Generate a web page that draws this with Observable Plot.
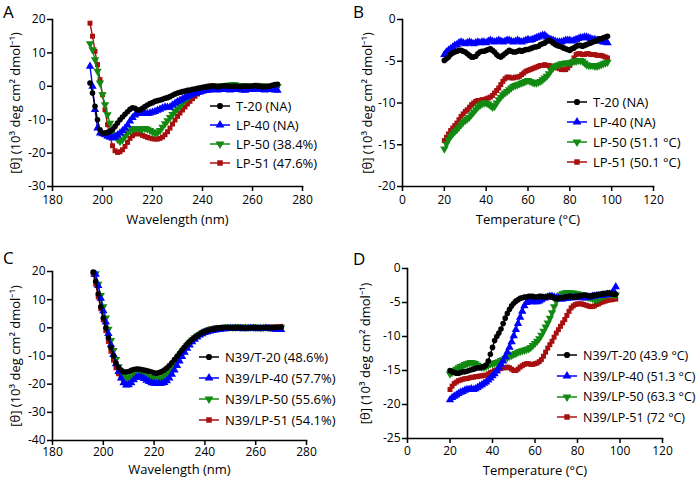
<!DOCTYPE html>
<html><head><meta charset="utf-8">
<script src="https://cdn.jsdelivr.net/npm/d3@7"></script>
<script src="https://cdn.jsdelivr.net/npm/@observablehq/plot@0.6"></script>
<style>
body{margin:0;background:#fff;font-family:"Open Sans",sans-serif;color:#000;}
#wrap{position:relative;width:700px;height:480px;overflow:hidden;}
.panel{position:absolute;width:350px;height:240px;}
.panel svg{display:block;}
.letter{position:absolute;font-size:17px;line-height:20px;}
.legend{position:absolute;font-size:13px;}
.legend .row{display:flex;align-items:center;white-space:nowrap;}
.legend .row span{margin-left:5px;}
</style></head>
<body><div id="wrap"></div>
<script>
// ---------- shared ----------
const seriesColors = ["#000000", "#0000ff", "#128a12", "#a81010"];
const seriesSymbols = ["circle", "triangle", "triangleDown", "square"];
const yLabel = "[θ] (10³ deg cm² dmol⁻¹)";
const wlLabel = "Wavelength (nm)";
const tLabel = "Temperature (°C)";

// ---------- Panel A: CD spectra (1 nm steps from 195 nm) ----------
const aNames = ["T-20 (NA)", "LP-40 (NA)", "LP-50 (38.4%)", "LP-51 (47.6%)"];
const aStart = 195;
const aT20 = [1,-2,-6,-10,-13,-14,-14,-13.8,-13.5,-13,
  -12,-11,-10,-9.2,-8.4,-7.6,-6.9,-6.4,-6.6,-7.1,
  -7,-6.6,-6.1,-5.6,-5.2,-4.9,-4.5,-4.3,-4.1,-3.9,
  -3.6,-3.4,-3.1,-2.7,-2.3,-2,-1.8,-1.6,-1.4,-1.2,
  -1.1,-0.9,-0.8,-0.6,-0.5,-0.3,-0.2,-0.1,
  0,0.1,0,-0.1,0,0.1,0.2,0.1,0,0,0.1,0,-0.1,0,0.1,0,0,0.1,0.2,0.1,0,-0.2,-0.1,0,0.1,0.3,0.5,0.6];
const aLP40 = [6,0,-7,-12.5,-14,-14.2,-14.5,-15,-15.3,-15.5,
  -15.2,-14.6,-14,-13.3,-12.6,-11.6,-10.4,-9.4,-8.6,-8.2,
  -8,-8,-8.1,-8.2,-8,-7.8,-7.6,-7.2,-6.9,-6.5,
  -6.2,-6.3,-6.2,-5.6,-5.1,-4.6,-4.2,-3.8,-3.4,-3.0,
  -2.7,-2.4,-2.1,-1.9,-1.7,-1.5,-1.3,-1.2,
  -1.1,-1,-1,-1.1,-1,-0.9,-1,-1,-1.1,-1,-0.9,-1,-1,-1.1,-1.2,-1,-0.9,-1,-0.8,-0.7,-0.9,-1,-1.1,-1,-0.9,-1,-1.1,-1.2];
const aLP50 = [12.8,11,8,4.5,1,-2.5,-5.5,-8.5,-11,-13,
  -14.5,-15.8,-16.5,-16,-15,-14,-13.3,-12.8,-12.6,-12.7,
  -12.8,-12.7,-12.6,-12.8,-13.2,-13.6,-14,-13.9,-13.2,-12.2,
  -11.2,-10.3,-9.3,-8.4,-7.5,-6.7,-5.8,-5,-4.2,-3.5,
  -2.8,-2.2,-1.6,-1.2,-0.8,-0.5,-0.3,-0.1,
  0,0,0.1,0,0,0.1,0.2,0.3,0.4,0.6,0.5,0.3,0.2,0.1,0,0,0.1,0,0,0.1,0.2,0.1,0,0,-0.1,0,0,0];
const aLP51 = [18.9,15,10.5,6.5,2,-2.5,-7,-11.5,-15,-17.8,
  -19.3,-19.8,-19.6,-19,-18,-16.8,-15.6,-14.8,-14.3,-14.1,
  -14.3,-14.7,-15,-15.3,-15.5,-15.7,-15.8,-15.8,-15.6,-15.2,
  -14.5,-13.6,-12.5,-11.3,-10.1,-9,-8,-7.1,-6.2,-5.3,
  -4.5,-3.7,-3,-2.3,-1.6,-1,-0.4,0,
  0.1,0.2,0.1,0,0,-0.1,0,0,0.1,0,0,-0.1,-0.2,-0.1,0,0.1,0,0,0.2,0.3,0.2,0.1,0,0,0,0.1,0.2,0.3];
const aXTicks = [180,200,220,240,260,280];
const aYTicks = [-30,-20,-10,0,10,20];

// ---------- Panel B: thermal melts (1 °C steps from 20 °C) ----------
const bNames = ["T-20 (NA)", "LP-40 (NA)", "LP-50 (51.1 °C)", "LP-51 (50.1 °C)"];
const bStart = 20;
const bT20 = [-4.9,-4.7,-4.5,-4.2,-4.0,-3.9,-3.8,-3.7,-3.7,-3.8,
  -3.9,-4.1,-4.3,-4.5,-4.5,-4.4,-4.1,-3.9,-3.8,-3.8,
  -3.7,-3.6,-3.5,-3.7,-3.9,-4.2,-4.4,-4.5,-4.3,-4.1,
  -3.9,-3.7,-3.8,-3.9,-3.9,-3.8,-3.7,-3.8,-3.7,-3.6,
  -3.6,-3.5,-3.4,-3.3,-3.3,-3.2,-3.0,-2.9,-2.8,-2.6,
  -2.5,-2.6,-2.8,-3.0,-3.1,-3.2,-3.3,-3.4,-3.5,-3.6,
  -3.7,-3.5,-3.4,-3.2,-3.1,-3.1,-3.2,-3.1,-3.0,-2.9,
  -2.8,-2.7,-2.6,-2.5,-2.3,-2.3,-2.2,-2.1,-2.0];
const bLP40 = [-4.2,-3.9,-3.7,-3.5,-3.3,-3.1,-3.0,-2.8,-2.7,-2.8,
  -2.9,-2.8,-2.7,-2.8,-2.9,-2.8,-2.7,-2.8,-2.7,-2.7,
  -2.8,-2.6,-2.5,-2.6,-2.7,-2.6,-2.5,-2.6,-2.7,-2.6,
  -2.5,-2.5,-2.6,-2.7,-2.6,-2.5,-2.6,-2.7,-2.6,-2.5,
  -2.4,-2.5,-2.4,-2.3,-2.2,-2.1,-2.0,-1.9,-1.9,-2.1,
  -2.3,-2.4,-2.5,-2.6,-2.7,-2.7,-2.7,-2.6,-2.5,-2.5,
  -2.5,-2.6,-2.5,-2.4,-2.3,-2.2,-2.2,-2.1,-2.1,-2.2,
  -2.3,-2.4,-2.4,-2.5,-2.6,-2.6,-2.7,-2.7,-2.8];
const bLP50 = [-15.5,-14.9,-14.4,-14.0,-13.7,-13.4,-13.2,-12.9,-12.6,-12.3,
  -12.1,-11.9,-11.7,-11.4,-11.1,-10.8,-10.5,-10.3,-10.1,-10.0,
  -10.0,-10.1,-10.3,-10.5,-10.4,-10.0,-9.6,-9.3,-9.0,-8.8,
  -8.6,-8.4,-8.2,-8.0,-7.9,-7.8,-7.7,-7.6,-7.5,-7.4,
  -7.3,-7.4,-7.5,-7.6,-7.6,-7.5,-7.4,-7.2,-7.0,-6.8,
  -6.5,-6.1,-5.8,-5.6,-5.5,-5.4,-5.3,-5.3,-5.2,-5.2,
  -5.2,-5.1,-5.0,-5.0,-4.9,-4.9,-5.0,-5.2,-5.4,-5.5,
  -5.5,-5.5,-5.6,-5.6,-5.5,-5.4,-5.3,-5.2,-5.1];
const bLP51 = [-14.5,-14.1,-13.7,-13.3,-13.0,-12.7,-12.4,-12.0,-11.6,-11.3,
  -11.0,-10.8,-10.5,-10.2,-10.0,-9.8,-9.7,-9.7,-9.6,-9.6,
  -9.5,-9.4,-9.3,-9.1,-8.8,-8.5,-8.2,-7.8,-7.4,-7.1,
  -6.9,-6.9,-7.0,-7.0,-6.9,-6.9,-6.8,-6.6,-6.4,-6.2,
  -6.1,-6.0,-5.9,-5.8,-5.7,-5.6,-5.5,-5.5,-5.4,-5.5,
  -5.5,-5.6,-5.6,-5.7,-5.8,-5.9,-6.0,-6.0,-6.0,-5.8,
  -5.5,-5.1,-4.6,-4.2,-4.1,-4.1,-4.2,-4.2,-4.1,-4.1,
  -4.2,-4.2,-4.2,-4.3,-4.3,-4.3,-4.4,-4.5,-4.6];
const bXTicks = [0,20,40,60,80,100,120];
const bYTicks = [-20,-15,-10,-5,0];

// ---------- Panel C: CD spectra of complexes ----------
const cNames = ["N39/T-20 (48.6%)", "N39/LP-40 (57.7%)", "N39/LP-50 (55.6%)", "N39/LP-51 (54.1%)"];
const cStarts = [196, 197, 197, 196];
const cT20 = [19.8,16.5,12,7.5,3.5,0,-3.5,-7,-10,-12.5,
  -14,-15,-15.6,-15.7,-15.5,-15.1,-14.8,-14.6,-14.6,-14.8,
  -15,-15.2,-15.4,-15.7,-16,-16.1,-15.9,-15.5,-15,-14.3,
  -13.4,-12.4,-11.3,-10.2,-9,-7.9,-6.8,-5.8,-4.9,-4.1,
  -3.4,-2.8,-2.2,-1.7,-1.3,-1,-0.7,-0.5,-0.3,-0.1,
  0,0,0.1,0.1,0,0,0,0.1,0,0,-0.1,0,0,0.1,0,0,0,0.1,0.1,0,0,0.1,0.2,0.1,0.2];
const cLP40 = [19,15,10.5,6,2,-2,-6,-9.5,-12.8,
  -15.5,-17.8,-19.5,-20.3,-20.2,-19.5,-18.5,-17.7,-17.3,-17.5,
  -18,-18.6,-19.1,-19.5,-19.7,-19.8,-19.8,-19.7,-19.4,-18.8,
  -17.8,-16.5,-15,-13.4,-11.8,-10.2,-8.7,-7.3,-6.1,-5,
  -4.1,-3.3,-2.6,-2.1,-1.7,-1.4,-1.2,-1,-0.8,-0.6,
  -0.5,-0.4,-0.4,-0.3,-0.3,-0.3,-0.2,-0.3,-0.3,-0.4,-0.3,-0.3,-0.2,-0.3,-0.3,-0.4,-0.3,-0.3,-0.2,-0.3,-0.4,-0.4,-0.5,-0.5,-0.6];
const cLP50 = [19.2,15.5,11.5,7.5,3.5,-0.5,-4.5,-8,-11.2,
  -13.8,-15.8,-17.2,-17.8,-17.8,-17.3,-16.7,-16.3,-16.2,-16.4,
  -16.8,-17.2,-17.6,-17.9,-18.1,-18.2,-18.1,-17.8,-17.2,-16.3,
  -15.2,-14,-12.7,-11.3,-9.9,-8.6,-7.4,-6.3,-5.3,-4.4,
  -3.6,-2.9,-2.3,-1.8,-1.3,-0.9,-0.6,-0.4,-0.2,-0.1,
  0,0.1,0.2,0.2,0.3,0.2,0.2,0.3,0.3,0.2,0.2,0.1,0.2,0.2,0.3,0.2,0.1,0.1,0.2,0.2,0.1,0.1,0.2,0.1,0.1];
const cLP51 = [19,15.5,11,6.8,2.8,-1,-4.8,-8.3,-11.5,-14.2,
  -16.3,-17.8,-18.7,-19,-18.7,-18,-17.2,-16.7,-16.6,-16.8,
  -17.1,-17.4,-17.7,-17.9,-18.1,-18.2,-18.1,-17.8,-17.3,-16.5,
  -15.5,-14.3,-13,-11.6,-10.2,-8.8,-7.6,-6.4,-5.4,-4.5,
  -3.7,-2.9,-2.2,-1.6,-1.1,-0.7,-0.4,-0.2,0,0.1,
  0.1,0.2,0.2,0.1,0.1,0,0,0.1,0.1,0,0,0,0.1,0.1,0,0,0.1,0.1,0.2,0.2,0.3,0.2,0.3,0.4,0.5];
const cXTicks = [180,200,220,240,260,280];
const cYTicks = [-40,-30,-20,-10,0,10,20];

// ---------- Panel D: thermal melts of complexes ----------
const dNames = ["N39/T-20 (43.9 °C)", "N39/LP-40 (51.3 °C)", "N39/LP-50 (63.3 °C)", "N39/LP-51 (72 °C)"];
const dStart = 20;
const dT20 = [-15.0,-15.2,-15.3,-15.4,-15.4,-15.3,-15.2,-15.2,-15.1,-15.0,
  -14.9,-14.8,-14.7,-14.6,-14.6,-14.5,-14.4,-14.2,-13.6,-12.6,
  -11.6,-10.6,-10.0,-9.5,-8.9,-8.1,-7.3,-6.6,-6.0,-5.5,
  -5.1,-4.8,-4.6,-4.4,-4.3,-4.2,-4.2,-4.1,-4.1,-4.1,
  -4.2,-4.2,-4.1,-4.1,-4.2,-4.2,-4.1,-4.1,-4.2,-4.3,
  -4.4,-4.4,-4.3,-4.3,-4.2,-4.2,-4.1,-4.1,-4.2,-4.2,
  -4.1,-4.0,-4.0,-3.9,-3.9,-4.0,-4.1,-4.0,-3.9,-3.9,
  -3.8,-3.8,-3.7,-3.7,-3.6,-3.6,-3.7,-3.8,-3.8];
const dLP40 = [-19.3,-19.0,-18.8,-18.6,-18.4,-18.2,-18.1,-17.9,-17.8,-17.8,
  -17.7,-17.8,-17.7,-17.5,-17.3,-17.1,-16.9,-16.7,-16.4,-16.1,
  -15.8,-15.5,-15.1,-14.6,-14.1,-13.6,-13.0,-12.3,-11.6,-10.8,
  -9.9,-9.0,-8.1,-7.2,-6.3,-5.5,-5.0,-4.8,-4.8,-4.9,
  -4.9,-4.9,-4.8,-4.6,-4.4,-4.3,-4.2,-4.1,-4.1,-4.2,
  -4.3,-4.4,-4.5,-4.5,-4.4,-4.4,-4.3,-4.3,-4.3,-4.2,
  -4.2,-4.2,-4.3,-4.3,-4.3,-4.2,-4.2,-4.1,-4.1,-4.0,
  -4.0,-4.0,-3.9,-3.9,-3.8,-3.8,-3.7,-3.3,-2.7];
const dLP50 = [-15.5,-15.3,-15.0,-14.8,-14.6,-14.4,-14.3,-14.1,-14.0,-13.9,
  -13.8,-13.9,-14.0,-14.2,-14.4,-14.5,-14.5,-14.4,-14.2,-14.0,
  -14.0,-13.9,-13.8,-13.7,-13.5,-13.4,-13.2,-13.1,-12.9,-12.8,
  -12.6,-12.5,-12.3,-12.2,-12.1,-12.0,-11.9,-11.8,-11.6,-11.3,
  -11.0,-10.7,-10.3,-9.8,-9.2,-8.6,-8.0,-7.3,-6.5,-5.6,
  -4.8,-4.2,-3.9,-3.7,-3.6,-3.5,-3.5,-3.6,-3.6,-3.7,
  -3.7,-3.8,-3.9,-4.0,-4.1,-4.2,-4.3,-4.4,-4.5,-4.5,
  -4.4,-4.2,-4.1,-4.0,-3.9,-3.9,-3.8,-3.9,-3.9];
const dLP51 = [-17.8,-17.3,-16.9,-16.7,-16.5,-16.4,-16.3,-16.2,-16.2,-16.1,
  -16.0,-16.0,-15.9,-15.9,-15.8,-15.8,-15.7,-15.7,-15.5,-15.3,
  -15.2,-15.0,-14.9,-14.8,-14.7,-14.6,-14.6,-14.5,-14.6,-14.8,
  -15.0,-15.0,-14.8,-14.5,-14.3,-14.1,-14.0,-14.0,-14.1,-14.1,
  -14.0,-13.9,-13.7,-13.4,-12.9,-12.3,-11.7,-11.2,-10.7,-10.1,
  -9.5,-9.0,-8.5,-8.0,-7.5,-6.9,-6.3,-5.8,-5.5,-5.3,
  -5.2,-5.2,-5.2,-5.3,-5.4,-5.5,-5.6,-5.6,-5.5,-5.3,
  -5.2,-5.0,-4.9,-4.8,-4.7,-4.6,-4.6,-4.5,-4.5];
const dXTicks = [0,20,40,60,80,100,120];
const dYTicks = [-25,-20,-15,-10,-5,0];

// ---------- build ----------
function toRows(values, start) {
  return values.map((v, i) => ({x: start + i, y: v}));
}

function seriesMarks(seriesList) {
  const marks = [];
  // draw last series first so the first (black) ends on top
  for (let k = seriesList.length - 1; k >= 0; k--) {
    const rows = seriesList[k];
    const col = seriesColors[k];
    marks.push(Plot.line(rows, {x: "x", y: "y", stroke: col, strokeWidth: 1.4}));
    const sym = seriesSymbols[k];
    const opts = {x: "x", y: "y", fill: col, stroke: "none"};
    if (sym === "circle") Object.assign(opts, {symbol: "circle", r: 2.8});
    else if (sym === "triangle") Object.assign(opts, {symbol: "triangle", r: 3.1});
    else if (sym === "triangleDown") Object.assign(opts, {symbol: "triangle", r: 3.1, rotate: 180});
    else Object.assign(opts, {symbol: "square", r: 2.8});
    marks.push(Plot.dot(rows, opts));
  }
  return marks;
}

function makePanel(cfg) {
  return Plot.plot({
    width: 350, height: 240,
    marginLeft: cfg.ml, marginRight: cfg.mr, marginTop: cfg.mt, marginBottom: cfg.mb,
    style: {fontFamily: "'Open Sans', sans-serif", fontSize: "12px", color: "#000", background: "#fff", overflow: "visible"},
    x: {domain: [cfg.xTicks[0], cfg.xTicks[cfg.xTicks.length - 1]]},
    y: {domain: [cfg.yTicks[0], cfg.yTicks[cfg.yTicks.length - 1]]},
    marks: [
      ...seriesMarks(cfg.series),
      Plot.frame({anchor: "left", strokeWidth: 1.6}),
      Plot.frame({anchor: "bottom", strokeWidth: 1.6}),
      Plot.axisX({ticks: cfg.xTicks, tickSize: 5, tickPadding: cfg.xpad, strokeWidth: 1.5, label: null, fontSize: 12, tickFormat: d => String(d)}),
      Plot.axisY({ticks: cfg.yTicks, tickSize: 5, tickPadding: 2, strokeWidth: 1.5, label: null, fontSize: 12, tickFormat: d => String(d)}),
      Plot.text([cfg.xLabel], {text: d => d, frameAnchor: "bottom", dy: cfg.xdy, fontSize: 13, fontWeight: "normal", lineAnchor: "bottom"}),
      Plot.text([yLabel], {text: d => d, frameAnchor: "left", dx: cfg.ydx, rotate: -90, fontSize: 13, fontWeight: "normal", lineAnchor: "middle", textAnchor: "middle"})
    ]
  });
}

function addLegend(parent, left, top, rowH, names, fontSize) {
  const div = document.createElement("div");
  div.className = "legend";
  div.style.left = left + "px";
  div.style.top = top + "px";
  div.style.fontSize = fontSize + "px";
  names.forEach((name, k) => {
    const row = document.createElement("div");
    row.className = "row";
    row.style.height = rowH + "px";
    const svg = d3.create("svg").attr("width", 22).attr("height", 12);
    svg.append("line").attr("x1", 1).attr("x2", 21).attr("y1", 6).attr("y2", 6)
      .attr("stroke", seriesColors[k]).attr("stroke-width", 1.5);
    const sym = seriesSymbols[k];
    const type = sym === "circle" ? d3.symbolCircle : sym === "square" ? d3.symbolSquare : d3.symbolTriangle;
    const size = sym === "circle" ? 30 : sym === "square" ? 30 : 34;
    svg.append("path").attr("d", d3.symbol(type, size)())
      .attr("transform", `translate(11,6) rotate(${sym === "triangleDown" ? 180 : 0})`)
      .attr("fill", seriesColors[k]);
    row.append(svg.node());
    const span = document.createElement("span");
    span.textContent = name;
    row.append(span);
    div.append(row);
  });
  parent.append(div);
}

const wrap = document.getElementById("wrap");
const panels = [
  {left: 0, top: 0, letter: "A", lt: 2, ml: 52, mr: 48, mt: 19, mb: 54, xpad: 4, xdy: 37, ydx: -37,
   xTicks: aXTicks, yTicks: aYTicks, xLabel: wlLabel,
   series: [toRows(aT20, aStart), toRows(aLP40, aStart), toRows(aLP50, aStart), toRows(aLP51, aStart)],
   legend: [209, 96, 19, aNames, 13]},
  {left: 350, top: 0, letter: "B", lt: 2, ml: 52, mr: 47, mt: 19, mb: 54, xpad: 4, xdy: 37, ydx: -35,
   xTicks: bXTicks, yTicks: bYTicks, xLabel: tLabel,
   series: [toRows(bT20, bStart), toRows(bLP40, bStart), toRows(bLP50, bStart), toRows(bLP51, bStart)],
   legend: [216, 92, 20, bNames, 13]},
  {left: 0, top: 240, letter: "C", lt: 8, ml: 52, mr: 44, mt: 31, mb: 40, xpad: 2, xdy: 33, ydx: -37,
   xTicks: cXTicks, yTicks: cYTicks, xLabel: wlLabel,
   series: [toRows(cT20, cStarts[0]), toRows(cLP40, cStarts[1]), toRows(cLP50, cStarts[2]), toRows(cLP51, cStarts[3])],
   legend: [198, 106, 21, cNames, 13]},
  {left: 350, top: 240, letter: "D", lt: 9, ml: 57, mr: 38, mt: 28, mb: 42, xpad: 3, xdy: 36, ydx: -42,
   xTicks: dXTicks, yTicks: dYTicks, xLabel: tLabel,
   series: [toRows(dT20, dStart), toRows(dLP40, dStart), toRows(dLP50, dStart), toRows(dLP51, dStart)],
   legend: [206, 105, 20.7, dNames, 12.5]}
];

panels.forEach(p => {
  const box = document.createElement("div");
  box.className = "panel";
  box.style.left = p.left + "px";
  box.style.top = p.top + "px";
  box.append(makePanel(p));
  const letter = document.createElement("div");
  letter.className = "letter";
  letter.textContent = p.letter;
  letter.style.left = "3px";
  letter.style.top = p.lt + "px";
  box.append(letter);
  addLegend(box, p.legend[0], p.legend[1], p.legend[2], p.legend[3], p.legend[4]);
  wrap.append(box);
});
</script>
</body></html>
